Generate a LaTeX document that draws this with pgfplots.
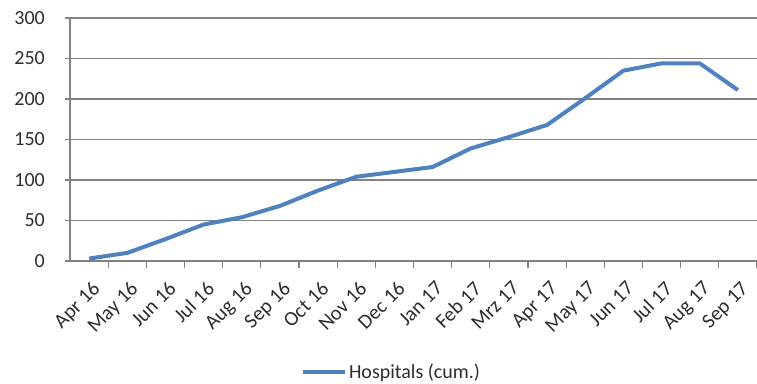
\documentclass[border=0pt]{standalone}
\usepackage{fontspec}
\setmainfont{Carlito}
\usepackage{pgfplots}
\pgfplotsset{compat=1.18}
\definecolor{lineblue}{RGB}{79,129,189}
\definecolor{gridgray}{RGB}{130,130,130}
\definecolor{labelgray}{RGB}{45,45,45}

\begin{document}
\begin{tikzpicture}
\begin{axis}[
  at={(0pt,0pt)}, anchor=south west,
  scale only axis, width=687pt, height=243pt,
  xmin=-0.5, xmax=17.5, ymin=0, ymax=300,
  axis x line*=bottom, axis y line*=left,
  axis line style={gridgray, line width=1.3pt},
  xtick={0,...,17},
  xticklabels={Apr 16,May 16,Jun 16,Jul 16,Aug 16,Sep 16,Oct 16,Nov 16,Dec 16,
               Jan 17,Feb 17,Mrz 17,Apr 17,May 17,Jun 17,Jul 17,Aug 17,Sep 17},
  minor xtick={0.5,1.5,...,17.5},
  every major x tick/.append style={draw=none},
  every minor x tick/.append style={gridgray, line width=1.3pt},
  every major y tick/.append style={gridgray, line width=1.3pt},
  major tick length=5pt, minor tick length=7pt,
  tick align=outside,
  ytick={0,50,...,300},
  ymajorgrids,
  grid style={gridgray, line width=1.3pt},
  /pgf/number format/assume math mode=true,
  yticklabel style={font=\fontsize{20}{24}\selectfont, text=labelgray,
                    anchor=east, inner sep=0pt, xshift=-20pt},
  xticklabel style={font=\fontsize{20.5}{24}\selectfont, text=labelgray,
                    inner sep=0pt, xshift=2pt, yshift=-14pt, rotate=45, anchor=north east},
  legend style={at={(axis description cs:0.468,-0.457)}, anchor=center,
                draw=none, fill=none, font=\fontsize{20}{24}\selectfont,
                text=labelgray, inner sep=0pt},
  legend image code/.code={\draw[#1] (0pt,0pt) -- (42pt,0pt);},
  clip=false,
]
\addplot[lineblue, line width=4pt, line join=round] coordinates {
  (0,3) (1,10) (2,27) (3,45) (4,54) (5,68) (6,87) (7,104) (8,110)
  (9,116) (10,139) (11,153) (12,168) (13,201) (14,235) (15,244) (16,244) (17,211)
};
\addlegendentry{Hospitals (cum.)}
\end{axis}
\pgfresetboundingbox
\path (-70pt,-122pt) rectangle (687pt,261pt);
\end{tikzpicture}
\end{document}
